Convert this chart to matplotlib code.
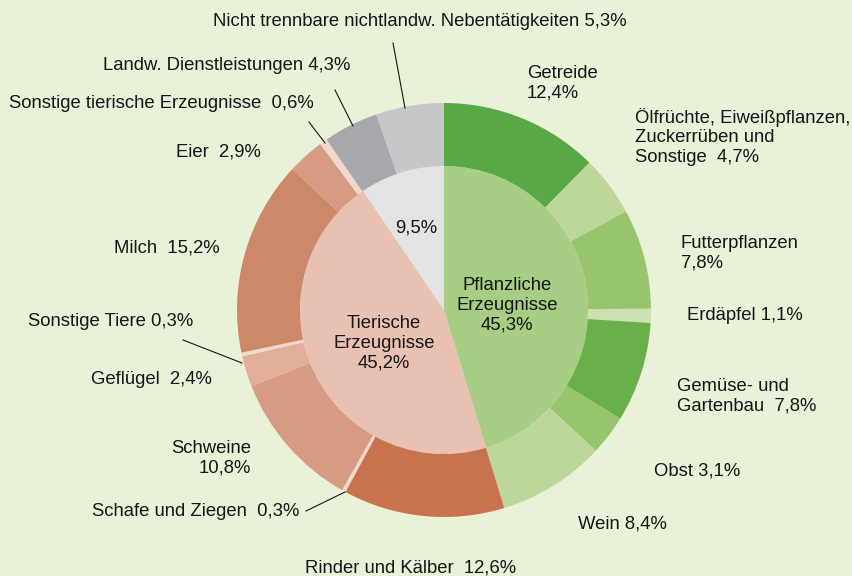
import matplotlib
matplotlib.use("Agg")
import matplotlib.pyplot as plt

plt.rcParams["font.family"] = ["Liberation Sans", "DejaVu Sans"]

# inner ring: main groups
inner_labels = ["Pflanzliche\nErzeugnisse\n45,3%", "Tierische\nErzeugnisse\n45,2%", "9,5%"]
inner_values = [45.3, 45.2, 9.5]
inner_colors = ["#a8cd84", "#e9c1b3", "#e2e3e5"]

# outer ring: sub groups, clockwise from 12 o'clock
outer_labels = [
    "Getreide\n12,4%",
    "Ölfrüchte, Eiweißpflanzen,\nZuckerrüben und\nSonstige  4,7%",
    "Futterpflanzen\n7,8%",
    "Erdäpfel 1,1%",
    "Gemüse- und\nGartenbau  7,8%",
    "Obst 3,1%",
    "Wein 8,4%",
    "Rinder und Kälber  12,6%",
    "Schafe und Ziegen  0,3%",
    "Schweine\n10,8%",
    "Geflügel  2,4%",
    "Sonstige Tiere 0,3%",
    "Milch  15,2%",
    "Eier  2,9%",
    "Sonstige tierische Erzeugnisse  0,6%",
    "Landw. Dienstleistungen 4,3%",
    "Nicht trennbare nichtlandw. Nebentätigkeiten 5,3%",
]
outer_values = [12.4, 4.7, 7.8, 1.1, 7.8, 3.1, 8.4,
                12.6, 0.3, 10.8, 2.4, 0.3, 15.2, 2.9, 0.6,
                4.3, 5.3]
outer_colors = [
    "#58a845", "#bdd69a", "#97c46c", "#cde0b0", "#6ab04a", "#97c46c", "#bdd69a",
    "#c8734e", "#f0d8cd", "#d79a82", "#e2ad99", "#f0d8cd", "#cd8769", "#d79a82", "#f0d8cd",
    "#a7a8ab", "#c6c7c9",
]

W, H = 852, 576
CX, CY = 444, 310          # pie centre in image pixels (y down)
R_OUT, R_IN = 207, 144
BG = "#e9f2d9"

# label anchors in image pixels (x, y centre, alignment)
outer_pos = [
    (527, 83, "left"), (635, 137, "left"), (681, 253, "left"), (687, 315, "left"),
    (677, 396, "left"), (654, 471, "left"), (578, 524, "left"),
    (411, 568, "center"), (299, 512, "right"), (251, 458, "right"),
    (212, 379, "right"), (28, 322, "left"), (220, 248, "right"),
    (261, 152, "right"), (314, 104, "right"), (350, 65, "right"),
    (420, 22, "center"),
]
inner_pos = [(507, 305), (384, 343), (416, 228)]

# leader lines for the thin / distant wedges (image pixels)
leaders = [
    ((393, 43), (405, 108)),
    ((335, 90), (353, 126)),
    ((309, 122), (325, 143)),
    ((183, 340), (242, 363)),
    ((306, 511), (345, 492)),
]


def fy(y):
    return H - y


fig = plt.figure(figsize=(W / 100, H / 100), dpi=100)
fig.patch.set_facecolor(BG)
ax = fig.add_axes([0, 0, 1, 1])
ax.set_facecolor(BG)

ax.pie(inner_values, radius=R_IN, center=(CX, fy(CY)), startangle=90,
       counterclock=False, colors=inner_colors,
       wedgeprops=dict(linewidth=0))
ax.pie(outer_values, radius=R_OUT, center=(CX, fy(CY)), startangle=90,
       counterclock=False, colors=outer_colors,
       wedgeprops=dict(width=R_OUT - R_IN, linewidth=0))

for text, (x, y, ha) in zip(outer_labels, outer_pos):
    ax.text(x, fy(y), text, ha=ha, va="center", fontsize=13.3,
            linespacing=1.22, color="#151515")

for text, (x, y) in zip(inner_labels, inner_pos):
    ax.text(x, fy(y), text, ha="center", va="center", fontsize=13.3,
            linespacing=1.22, color="#151515")

for (x0, y0), (x1, y1) in leaders:
    ax.plot([x0, x1], [fy(y0), fy(y1)], color="#151515", lw=0.8)

ax.set_xlim(0, W)
ax.set_ylim(0, H)
ax.set_aspect("equal")
ax.axis("off")

fig.savefig("out.png", dpi=100, facecolor=BG)
